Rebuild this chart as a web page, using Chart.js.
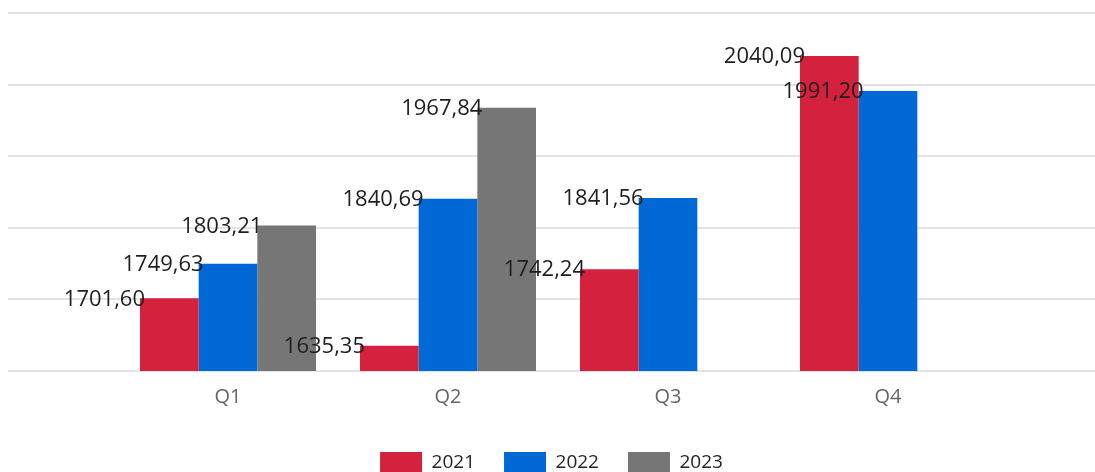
<!DOCTYPE html>
<html>
<head>
<meta charset="utf-8">
<script src="https://cdn.jsdelivr.net/npm/chart.js@4.4.0/dist/chart.umd.min.js"></script>
<style>
  html, body { margin: 0; padding: 0; background: #fff; overflow: hidden; }
  #wrap { position: relative; width: 1095px; height: 484px; }
</style>
</head>
<body>
<div id="wrap"><canvas id="quarter-chart"></canvas></div>
<script>
// --- DATA ---
const categories = ['Q1', 'Q2', 'Q3', 'Q4'];
const seriesNames = ['2021', '2022', '2023'];
const values2021 = [1701.60, 1635.35, 1742.24, 2040.09];
const values2022 = [1749.63, 1840.69, 1841.56, 1991.20];
const values2023 = [1803.21, 1967.84, null, null];
const yMin = 1600;
const yMax = 2100;
const yStep = 100;

const seriesColors = ['#D4213D', '#0069D5', '#767676'];
const FONT = "'Open Sans', 'Noto Sans', sans-serif";

// format like 1701,60 (comma decimal, no thousands sep)
function fmt(v) {
    return v.toFixed(2).replace('.', ',');
}

// value labels: right aligned against the bar's left edge, centred on bar top
const barLabels = {
    id: 'barLabels',
    afterDatasetsDraw(chart) {
        const ctx = chart.ctx;
        ctx.save();
        ctx.font = `22px ${FONT}`;
        ctx.fillStyle = '#1f1f1f';
        ctx.textAlign = 'right';
        ctx.textBaseline = 'middle';
        chart.data.datasets.forEach((ds, i) => {
            const meta = chart.getDatasetMeta(i);
            meta.data.forEach((bar, j) => {
                const v = ds.data[j];
                if (v === null || v === undefined) return;
                ctx.fillText(fmt(v), bar.x - bar.width / 2 + 5, bar.y + 1);
            });
        });
        ctx.restore();
    }
};

const gridStyle = { color: '#e3e3e3', lineWidth: 2 };

new Chart(document.getElementById('quarter-chart'), {
    type: 'bar',
    data: {
        labels: categories,
        datasets: [
            { label: seriesNames[0], data: values2021, backgroundColor: seriesColors[0] },
            { label: seriesNames[1], data: values2022, backgroundColor: seriesColors[1] },
            { label: seriesNames[2], data: values2023, backgroundColor: seriesColors[2] }
        ]
    },
    options: {
        responsive: true,
        maintainAspectRatio: false,
        animation: false,
        datasets: { bar: { categoryPercentage: 0.8, barPercentage: 1.0, skipNull: false } },
        layout: { padding: { left: 8, right: 0, top: 13, bottom: 0 } },
        plugins: {
            legend: {
                position: 'bottom',
                labels: {
                    boxWidth: 42,
                    boxHeight: 22,
                    padding: 29,
                    color: '#252423',
                    font: { family: FONT, size: 19 }
                }
            },
            tooltip: { enabled: false }
        },
        scales: {
            x: {
                grid: { display: false },
                border: { display: false },
                ticks: { color: '#666666', padding: 6, font: { family: FONT, size: 20 } },
                afterFit(scale) { scale.height += 8; }
            },
            y: {
                position: 'left',
                min: yMin, max: yMax,
                ticks: { stepSize: yStep, display: false },
                border: { display: false },
                grid: { ...gridStyle, drawTicks: true, tickLength: 110 },
                afterFit(scale) { scale.width = 110; }
            },
            yRight: {
                position: 'right',
                min: yMin, max: yMax,
                ticks: { stepSize: yStep, display: false },
                border: { display: false },
                grid: { ...gridStyle, drawOnChartArea: false, drawTicks: true, tickLength: 97 },
                afterFit(scale) { scale.width = 97; }
            }
        }
    },
    plugins: [barLabels]
});
</script>
</body>
</html>
